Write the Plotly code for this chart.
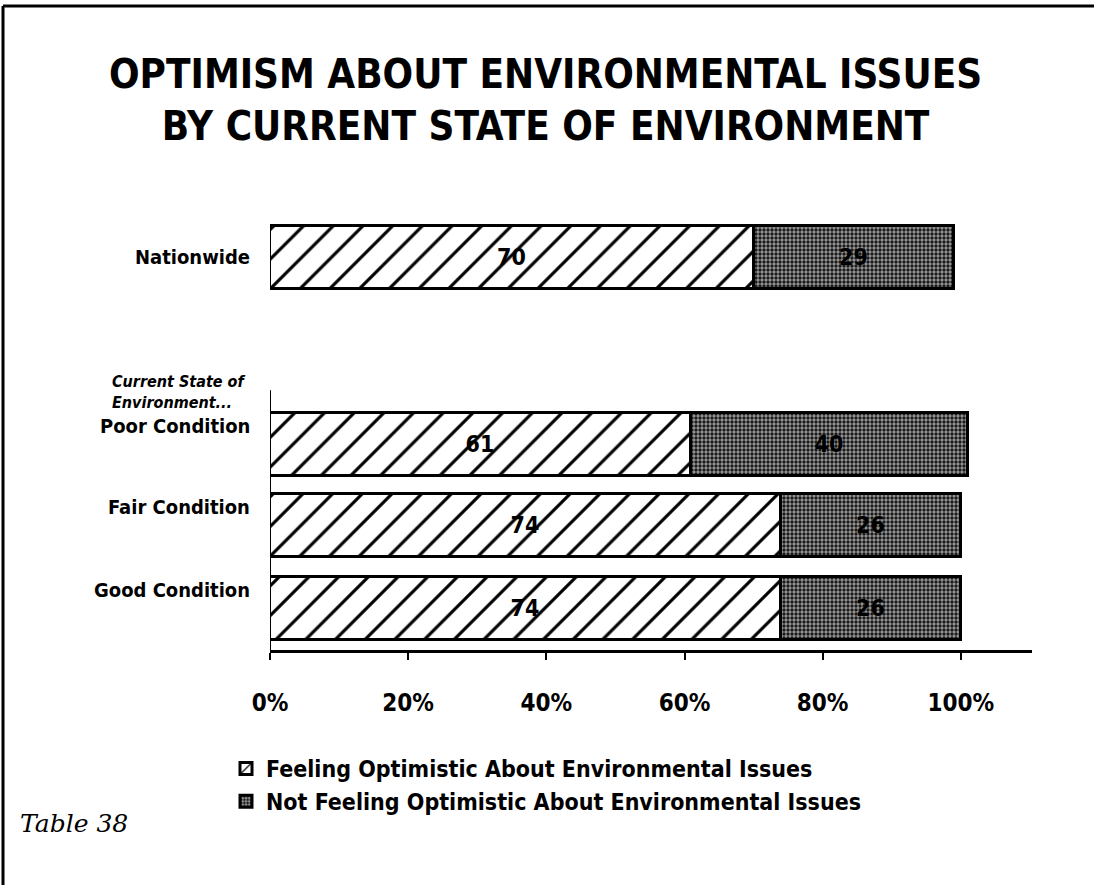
import plotly.graph_objects as go

# Survey results (percent)
groups = ["Nationwide", "Poor Condition", "Fair Condition", "Good Condition"]
optimistic = [70, 61, 74, 74]
not_optimistic = [29, 40, 26, 26]
tick_vals = [0, 20, 40, 60, 80, 100]
tick_text = ["0%", "20%", "40%", "60%", "80%", "100%"]

# Layout constants
ROW_POS = [4.79, 2.51, 1.52, 0.51]   # vertical slot of each bar (1 unit = one row)
LABEL_SHIFT = [0.0, 0.22, 0.22, 0.22]
BAR_W = 0.77
FONT = "DejaVu Sans Condensed"
W, H = 1097, 885
ML, MR, MT, MB = 270, 65, 200, 235
X_MAX = 110.3
Y_MAX = 5.49

fig = go.Figure()
fig.add_trace(go.Bar(
    y=ROW_POS, x=optimistic, orientation="h", width=BAR_W,
    name="Feeling Optimistic About Environmental Issues",
    text=[str(v) for v in optimistic], textposition="inside", insidetextanchor="middle",
    insidetextfont=dict(family=FONT, size=23, color="black", weight="bold"),
    marker=dict(color="white", line=dict(color="black", width=3),
                pattern=dict(shape="/", fgcolor="black", bgcolor="white", fgopacity=1,
                             size=21, solidity=0.15)),
))
fig.add_trace(go.Bar(
    y=ROW_POS, x=not_optimistic, orientation="h", width=BAR_W,
    name="Not Feeling Optimistic About Environmental Issues",
    text=[str(v) for v in not_optimistic], textposition="inside", insidetextanchor="middle",
    insidetextfont=dict(family=FONT, size=23, color="black", weight="bold"),
    marker=dict(color="#777777", line=dict(color="black", width=3),
                pattern=dict(shape=".", fgcolor="#1a1a1a", bgcolor="#9c9c9c", fgopacity=1,
                             size=4, solidity=0.55)),
))

def px_x(p):
    return (p - ML) / (W - ML - MR)

def px_y(p):
    return (H - MB - p) / (H - MT - MB)

annotations = []
for g, pos, sh in zip(groups, ROW_POS, LABEL_SHIFT):
    annotations.append(dict(x=px_x(252), y=pos + sh, xref="paper", yref="y", text=g,
                            showarrow=False, xanchor="right", yanchor="middle",
                            font=dict(family=FONT, size=20, color="black", weight="bold")))
annotations.append(dict(x=px_x(110), y=px_y(392), xref="paper", yref="paper",
                        text="<i>Current State of<br>Environment...</i>", align="left",
                        showarrow=False, xanchor="left", yanchor="middle",
                        font=dict(family=FONT, size=16, color="black", weight="bold")))
annotations.append(dict(x=px_x(18), y=px_y(823), xref="paper", yref="paper",
                        text="<i>Table 38</i>", showarrow=False, xanchor="left", yanchor="middle",
                        font=dict(family="DejaVu Serif", size=25, color="black")))
annotations.append(dict(x=px_x(545), y=px_y(100), xref="paper", yref="paper",
                        text="OPTIMISM ABOUT ENVIRONMENTAL ISSUES<br>BY CURRENT STATE OF ENVIRONMENT",
                        showarrow=False, xanchor="center", yanchor="middle", align="center",
                        font=dict(family=FONT, size=40, color="black", weight="bold")))

shapes = [
    # left axis line under the condition rows
    dict(type="line", xref="x", yref="y", x0=0, x1=0, y0=0, y1=3.17,
         line=dict(color="black", width=2)),
    # page frame (left and top edges)
    dict(type="line", xref="paper", yref="paper", x0=px_x(3), x1=px_x(3), y0=px_y(6), y1=px_y(885),
         line=dict(color="black", width=3)),
    dict(type="line", xref="paper", yref="paper", x0=px_x(3), x1=px_x(1094), y0=px_y(6), y1=px_y(6),
         line=dict(color="black", width=3)),
]

fig.update_layout(
    width=W, height=H, barmode="stack", bargap=0,
    margin=dict(l=ML, r=MR, t=MT, b=MB, pad=0),
    paper_bgcolor="white", plot_bgcolor="white",
    showlegend=True,
    legend=dict(x=px_x(226), y=px_y(747), xanchor="left", yanchor="top",
                font=dict(family=FONT, size=23, color="black", weight="bold"),
                bgcolor="rgba(0,0,0,0)", traceorder="normal", itemclick=False),
    xaxis=dict(range=[0, X_MAX], tickvals=tick_vals, ticktext=tick_text,
               showline=True, linecolor="black", linewidth=3, showgrid=False, zeroline=False,
               ticks="outside", ticklen=7, tickwidth=2, tickcolor="black",
               ticklabelstandoff=22,
               tickfont=dict(family=FONT, size=24, color="black", weight="bold")),
    yaxis=dict(range=[0, Y_MAX], showticklabels=False, showgrid=False, zeroline=False,
               showline=False, ticks=""),
    annotations=annotations, shapes=shapes,
)

fig.write_html("out.html")
